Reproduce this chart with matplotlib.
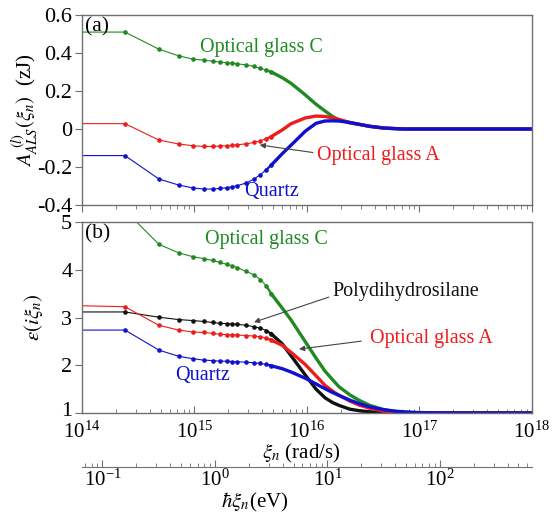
import matplotlib
matplotlib.use('Agg')
import matplotlib.pyplot as plt
import matplotlib.transforms as mtransforms
from matplotlib.ticker import LogLocator, NullFormatter, FuncFormatter

plt.rcParams['font.family'] = ['Liberation Serif', 'DejaVu Serif']
plt.rcParams['mathtext.fontset'] = 'stix'

# Matsubara frequencies (rad/s); first entry = n=0 term drawn from the left edge
xi = [1e14, 2.41e14, 4.82e14, 7.23e14, 9.64e14, 1.205e15, 1.446e15, 1.687e15,
      1.928e15, 2.169e15, 2.41e15, 2.89e15, 3.37e15, 3.86e15, 4.34e15, 4.82e15,
      6.03e15, 7.23e15, 9.64e15, 1.205e16, 1.446e16, 1.687e16, 1.928e16,
      2.41e16, 2.89e16, 3.62e16, 4.82e16, 6.03e16, 7.23e16, 9.64e16, 1.446e17,
      2.41e17, 1e18]
n_dots = 16   # points drawn with visible dots (n = 1 .. 20)

# (a) Lifshitz free-energy term, zJ
A_glassC = [0.51, 0.51, 0.42, 0.385, 0.368, 0.362, 0.357, 0.352, 0.349, 0.346, 0.343,
            0.337, 0.329, 0.32, 0.31, 0.30, 0.27, 0.24, 0.18, 0.13, 0.095, 0.066,
            0.048, 0.032, 0.024, 0.014, 0.005, 0.002, 0.0, 0.0, 0.0, 0.0, 0.0]
A_glassA = [0.028, 0.028, -0.058, -0.079, -0.088, -0.092, -0.092, -0.09, -0.088, -0.086,
            -0.083, -0.078, -0.071, -0.062, -0.051, -0.04, -0.005, 0.028, 0.058, 0.068,
            0.066, 0.058, 0.05, 0.034, 0.025, 0.014, 0.005, 0.002, 0.0, 0.0, 0.0, 0.0, 0.0]
A_quartz = [-0.14, -0.14, -0.263, -0.295, -0.31, -0.316, -0.316, -0.313, -0.309, -0.304,
            -0.298, -0.284, -0.264, -0.24, -0.215, -0.19, -0.13, -0.085, -0.012, 0.03,
            0.042, 0.043, 0.042, 0.034, 0.025, 0.014, 0.005, 0.002, 0.0, 0.0, 0.0, 0.0, 0.0]

# (b) dielectric function at imaginary frequency
eps_glassC = [5.3, 5.25, 4.54, 4.36, 4.28, 4.24, 4.2, 4.16, 4.12, 4.09, 4.05, 3.97, 3.9,
              3.8, 3.67, 3.5, 3.2, 2.95, 2.5, 2.15, 1.88, 1.7, 1.55, 1.38, 1.27, 1.16,
              1.07, 1.03, 1.015, 1.005, 1.0, 1.0, 1.0]
eps_pdhs = [3.12, 3.12, 3.01, 2.96, 2.94, 2.92, 2.90, 2.88, 2.875, 2.87, 2.86, 2.84, 2.81,
            2.78, 2.73, 2.66, 2.45, 2.2, 1.8, 1.5, 1.32, 1.22, 1.16, 1.08, 1.05, 1.025,
            1.008, 1.003, 1.0, 1.0, 1.0, 1.0, 1.0]
eps_glassA = [3.25, 3.23, 2.84, 2.74, 2.70, 2.69, 2.67, 2.65, 2.645, 2.64, 2.635, 2.625,
              2.615, 2.6, 2.57, 2.53, 2.42, 2.27, 2.02, 1.78, 1.58, 1.46, 1.37, 1.25, 1.17,
              1.1, 1.04, 1.02, 1.01, 1.003, 1.0, 1.0, 1.0]
eps_quartz = [2.74, 2.74, 2.32, 2.19, 2.14, 2.11, 2.10, 2.09, 2.085, 2.08, 2.075, 2.065,
              2.055, 2.04, 2.02, 1.99, 1.93, 1.86, 1.73, 1.61, 1.51, 1.43, 1.37, 1.27, 1.2,
              1.13, 1.07, 1.04, 1.025, 1.01, 1.003, 1.0, 1.0]

hbar_eVs = 6.582e-16

GREEN = '#1f8a22'
RED = '#ee1c1c'
BLUE = '#1010d0'
BLACK = '#111111'
FRAME = '#707070'
LBL = 14.5


def draw(ax, y, color):
    ax.plot(xi, y, color=color, lw=0.8)
    ax.plot(xi[1:n_dots], y[1:n_dots], ls='none', marker='o', ms=2.3, color=color)
    ax.plot(xi[n_dots - 2:n_dots], y[n_dots - 2:n_dots], color=color, lw=1.6)
    ax.plot(xi[n_dots - 1:], y[n_dots - 1:], color=color, lw=2.4)


def style(ax, xdir):
    ax.set_xscale('log')
    ax.set_xlim(1e14, 1e18)
    for s in ax.spines.values():
        s.set_color(FRAME)
        s.set_linewidth(1.0)
    ax.xaxis.set_major_locator(LogLocator(base=10, numticks=10))
    ax.xaxis.set_minor_locator(LogLocator(base=10, subs=range(2, 10), numticks=50))
    ax.xaxis.set_minor_formatter(NullFormatter())
    ax.tick_params(axis='x', which='major', direction=xdir, length=5, color=FRAME,
                   labelsize=15, pad=6)
    ax.tick_params(axis='x', which='minor', direction=xdir, length=3, color=FRAME)
    ax.tick_params(axis='y', direction='out', length=5, color=FRAME, labelsize=16, pad=2)
    ax.tick_params(top=False, right=False)


fig = plt.figure(figsize=(5.52, 5.13), dpi=100)

# ---- panel (a)
ax1 = fig.add_axes([0.1486, 0.6004, 0.815, 0.3704])
draw(ax1, A_glassC, GREEN)
draw(ax1, A_glassA, RED)
draw(ax1, A_quartz, BLUE)
style(ax1, 'out')
ax1.set_ylim(-0.4, 0.6)
ax1.set_yticks([-0.4, -0.2, 0, 0.2, 0.4, 0.6])
ax1.yaxis.set_major_formatter(FuncFormatter(lambda v, p: '0' if abs(v) < 1e-9 else f'{v:.1f}'))
ax1.xaxis.set_major_formatter(NullFormatter())
ax1.set_ylabel(r'$A_{ALS}^{\;(l)}(\xi_n)$  (zJ)', fontsize=15, labelpad=-3)
ax1.text(0.006, 0.99, '(a)', transform=ax1.transAxes, fontsize=15.5, va='top', ha='left')
ax1.text(1.12e15, 0.43, 'Optical glass C', color=GREEN, fontsize=LBL, va='center')
ax1.text(2.75e15, -0.33, 'Quartz', color=BLUE, fontsize=LBL, va='center')
ax1.annotate('Optical glass A', xy=(3.8e15, -0.084), xytext=(1.23e16, -0.137),
             color=RED, fontsize=LBL, va='center',
             arrowprops=dict(arrowstyle='-|>', color='#444444', lw=0.8,
                             mutation_scale=8, relpos=(0, 0.6), shrinkA=1, shrinkB=0))

# ---- panel (b)
ax2 = fig.add_axes([0.1486, 0.1949, 0.815, 0.3717])
draw(ax2, eps_glassC, GREEN)
draw(ax2, eps_pdhs, BLACK)
draw(ax2, eps_glassA, RED)
draw(ax2, eps_quartz, BLUE)
style(ax2, 'in')
ax2.set_ylim(1, 5)
ax2.set_yticks([1, 2, 3, 4, 5])
# lift the "1" label a touch so it clears the 10^14 label below it
lab1 = ax2.get_yticklabels()[0]
lab1.set_transform(lab1.get_transform() +
                   mtransforms.ScaledTranslation(0, 3 / 72, fig.dpi_scale_trans))
ax2.set_ylabel(r'$\varepsilon(i\xi_n)$', fontsize=15, labelpad=12)
ax2.text(0.006, 0.99, '(b)', transform=ax2.transAxes, fontsize=15.5, va='top', ha='left')
ax2.text(1.24e15, 4.63, 'Optical glass C', color=GREEN, fontsize=LBL, va='center')
ax2.text(6.7e14, 1.79, 'Quartz', color=BLUE, fontsize=LBL, va='center')
ax2.annotate('Polydihydrosilane', xy=(3.38e15, 2.905), xytext=(1.70e16, 3.54),
             color=BLACK, fontsize=LBL, va='center',
             arrowprops=dict(arrowstyle='-|>', color='#444444', lw=0.8,
                             mutation_scale=8, relpos=(0, 0.3), shrinkA=1, shrinkB=0))
ax2.annotate('Optical glass A', xy=(8.5e15, 2.34), xytext=(3.6e16, 2.57),
             color=RED, fontsize=LBL, va='center',
             arrowprops=dict(arrowstyle='-|>', color='#444444', lw=0.8,
                             mutation_scale=8, relpos=(0, 0.4), shrinkA=4, shrinkB=0))
fig.text(0.545, 1 - 453 / 513, r'$\xi_n$ (rad/s)', fontsize=15, ha='center', va='center')

# ---- photon-energy axis
ax3 = fig.add_axes([0.1486, 0.0897, 0.815, 0.001])
ax3.set_xscale('log')
ax3.set_xlim(1e14 * hbar_eVs, 1e18 * hbar_eVs)
ax3.set_yticks([])
for k in ['top', 'left', 'right']:
    ax3.spines[k].set_visible(False)
ax3.spines['bottom'].set_color(FRAME)
ax3.xaxis.set_major_locator(LogLocator(base=10, numticks=10))
ax3.xaxis.set_minor_locator(LogLocator(base=10, subs=range(2, 10), numticks=50))
ax3.xaxis.set_minor_formatter(NullFormatter())
ax3.tick_params(axis='x', which='major', direction='in', length=5, color=FRAME,
                labelsize=15, pad=2)
ax3.tick_params(axis='x', which='minor', direction='in', length=3, color=FRAME)
fig.text(0.462, 1 - 502 / 513, r'$\hbar\xi_n$(eV)', fontsize=15, ha='center', va='center')

fig.savefig('out.png', dpi=100)
